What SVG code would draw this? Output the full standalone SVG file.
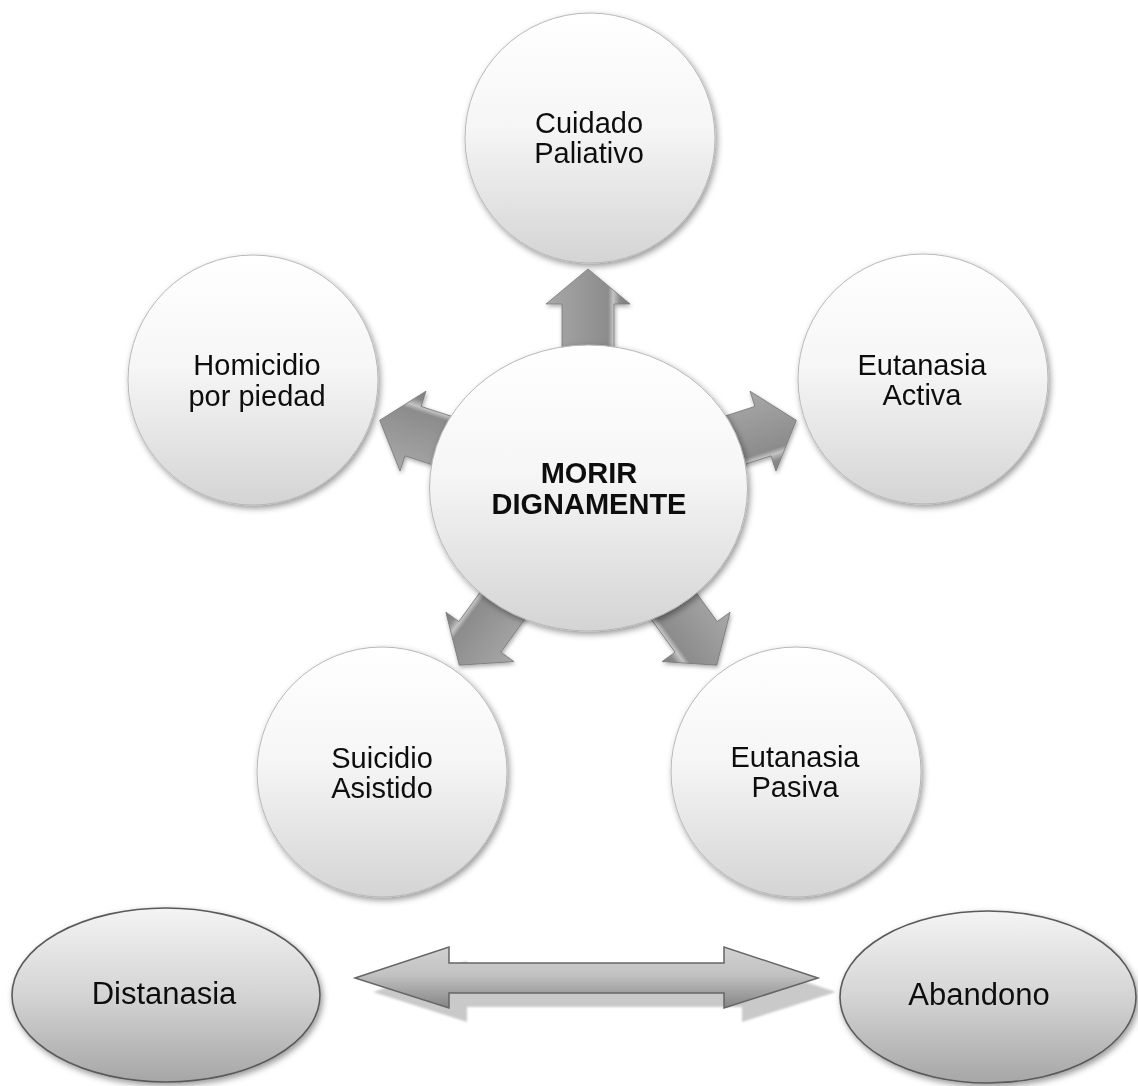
<svg xmlns="http://www.w3.org/2000/svg" width="1138" height="1086" viewBox="0 0 1138 1086">
<defs>
<linearGradient id="gCircle" x1="0" y1="0" x2="0" y2="1">
<stop offset="0" stop-color="#ffffff"/>
<stop offset="0.45" stop-color="#f6f6f6"/>
<stop offset="1" stop-color="#d4d4d4"/>
</linearGradient>
<linearGradient id="gEll" x1="0" y1="0" x2="0" y2="1">
<stop offset="0" stop-color="#f4f4f4"/>
<stop offset="0.5" stop-color="#d4d4d4"/>
<stop offset="1" stop-color="#a6a6a6"/>
</linearGradient>
<linearGradient id="gArrow" gradientUnits="userSpaceOnUse" x1="-42" y1="0" x2="42" y2="0">
<stop offset="0" stop-color="#a8a8a8"/>
<stop offset="0.5" stop-color="#959595"/>
<stop offset="0.74" stop-color="#8c8c8c"/>
<stop offset="0.8" stop-color="#c4c4c4"/>
<stop offset="0.88" stop-color="#8a8a8a"/>
<stop offset="1" stop-color="#7c7c7c"/>
</linearGradient>
<linearGradient id="gDbl" x1="0" y1="0" x2="0" y2="1">
<stop offset="0" stop-color="#d2d2d2"/>
<stop offset="0.45" stop-color="#c2c2c2"/>
<stop offset="1" stop-color="#858585"/>
</linearGradient>
<filter id="shadow" x="-20%" y="-20%" width="140%" height="140%">
<feDropShadow dx="2" dy="3" stdDeviation="3" flood-color="#000" flood-opacity="0.4"/>
</filter>
<filter id="ashadow" x="-30%" y="-30%" width="160%" height="160%">
<feDropShadow dx="1" dy="2" stdDeviation="2" flood-color="#000" flood-opacity="0.35"/>
</filter>
<filter id="blur1"><feGaussianBlur stdDeviation="1"/></filter>
<path id="arr" d="M0,-219 L42,-184 L26,-184 L26,-130 L-26,-130 L-26,-184 L-42,-184 Z"/>
</defs>
<style>
.circ{fill:url(#gCircle);stroke:#b8b8b8;stroke-width:1}
.ell{fill:url(#gEll);stroke:#5a5a5a;stroke-width:1.6}
.t{font-family:"Liberation Sans",Arial,sans-serif;font-size:29px;fill:#111;text-anchor:middle}
.tb{font-family:"Liberation Sans",Arial,sans-serif;font-size:29px;font-weight:bold;fill:#111;text-anchor:middle}
.te{font-family:"Liberation Sans",Arial,sans-serif;font-size:31px;fill:#111;text-anchor:middle}
.a{fill:url(#gArrow);stroke:#7a7a7a;stroke-width:0.8}
</style>
<rect width="1138" height="1086" fill="#ffffff"/>

<g id="node-cuidado" filter="url(#shadow)">
<circle class="circ" cx="590" cy="138" r="125"/>
<text class="t" x="589" y="133">Cuidado</text>
<text class="t" x="589" y="163">Paliativo</text>
</g>
<g id="node-homicidio" filter="url(#shadow)">
<circle class="circ" cx="253" cy="380" r="125"/>
<text class="t" x="257" y="375">Homicidio</text>
<text class="t" x="257" y="406">por piedad</text>
</g>
<g id="node-activa" filter="url(#shadow)">
<circle class="circ" cx="923" cy="379" r="125"/>
<text class="t" x="922" y="375">Eutanasia</text>
<text class="t" x="922" y="405">Activa</text>
</g>
<g id="node-suicidio" filter="url(#shadow)">
<circle class="circ" cx="382" cy="772" r="125"/>
<text class="t" x="382" y="768">Suicidio</text>
<text class="t" x="382" y="798">Asistido</text>
</g>
<g id="node-pasiva" filter="url(#shadow)">
<circle class="circ" cx="796" cy="772" r="125"/>
<text class="t" x="795" y="767">Eutanasia</text>
<text class="t" x="795" y="797">Pasiva</text>
</g>

<g id="connectors">
<g filter="url(#ashadow)"><use href="#arr" class="a" transform="translate(588,488)"/></g>
<g filter="url(#ashadow)"><use href="#arr" class="a" transform="translate(588,488) rotate(-72)"/></g>
<g filter="url(#ashadow)"><use href="#arr" class="a" transform="translate(588,488) rotate(72)"/></g>
<g filter="url(#ashadow)"><use href="#arr" class="a" transform="translate(588,488) rotate(-144)"/></g>
<g filter="url(#ashadow)"><use href="#arr" class="a" transform="translate(588,488) rotate(144)"/></g>
<g id="double-arrow">
<polygon points="373,992 467,961 467,977 742,977 742,961 836,992 742,1022 742,1007 467,1007 467,1022" fill="#c9c9c9" filter="url(#blur1)"/>
<polygon points="355,978 449,947 449,963 724,963 724,947 818,978 724,1008 724,993 449,993 449,1008" fill="url(#gDbl)" stroke="#666" stroke-width="1.5" stroke-linejoin="miter"/>
</g>
</g>

<g id="node-morir" filter="url(#shadow)">
<ellipse class="circ" cx="588.5" cy="488" rx="159" ry="143"/>
<text class="tb" x="589" y="483">MORIR</text>
<text class="tb" x="589" y="514">DIGNAMENTE</text>
</g>

<g id="node-distanasia" filter="url(#shadow)">
<ellipse class="ell" cx="166" cy="995" rx="154" ry="87"/>
<text class="te" x="164" y="1004">Distanasia</text>
</g>
<g id="node-abandono" filter="url(#shadow)">
<ellipse class="ell" cx="988" cy="997" rx="148" ry="86"/>
<text class="te" x="979" y="1005">Abandono</text>
</g>
</svg>
